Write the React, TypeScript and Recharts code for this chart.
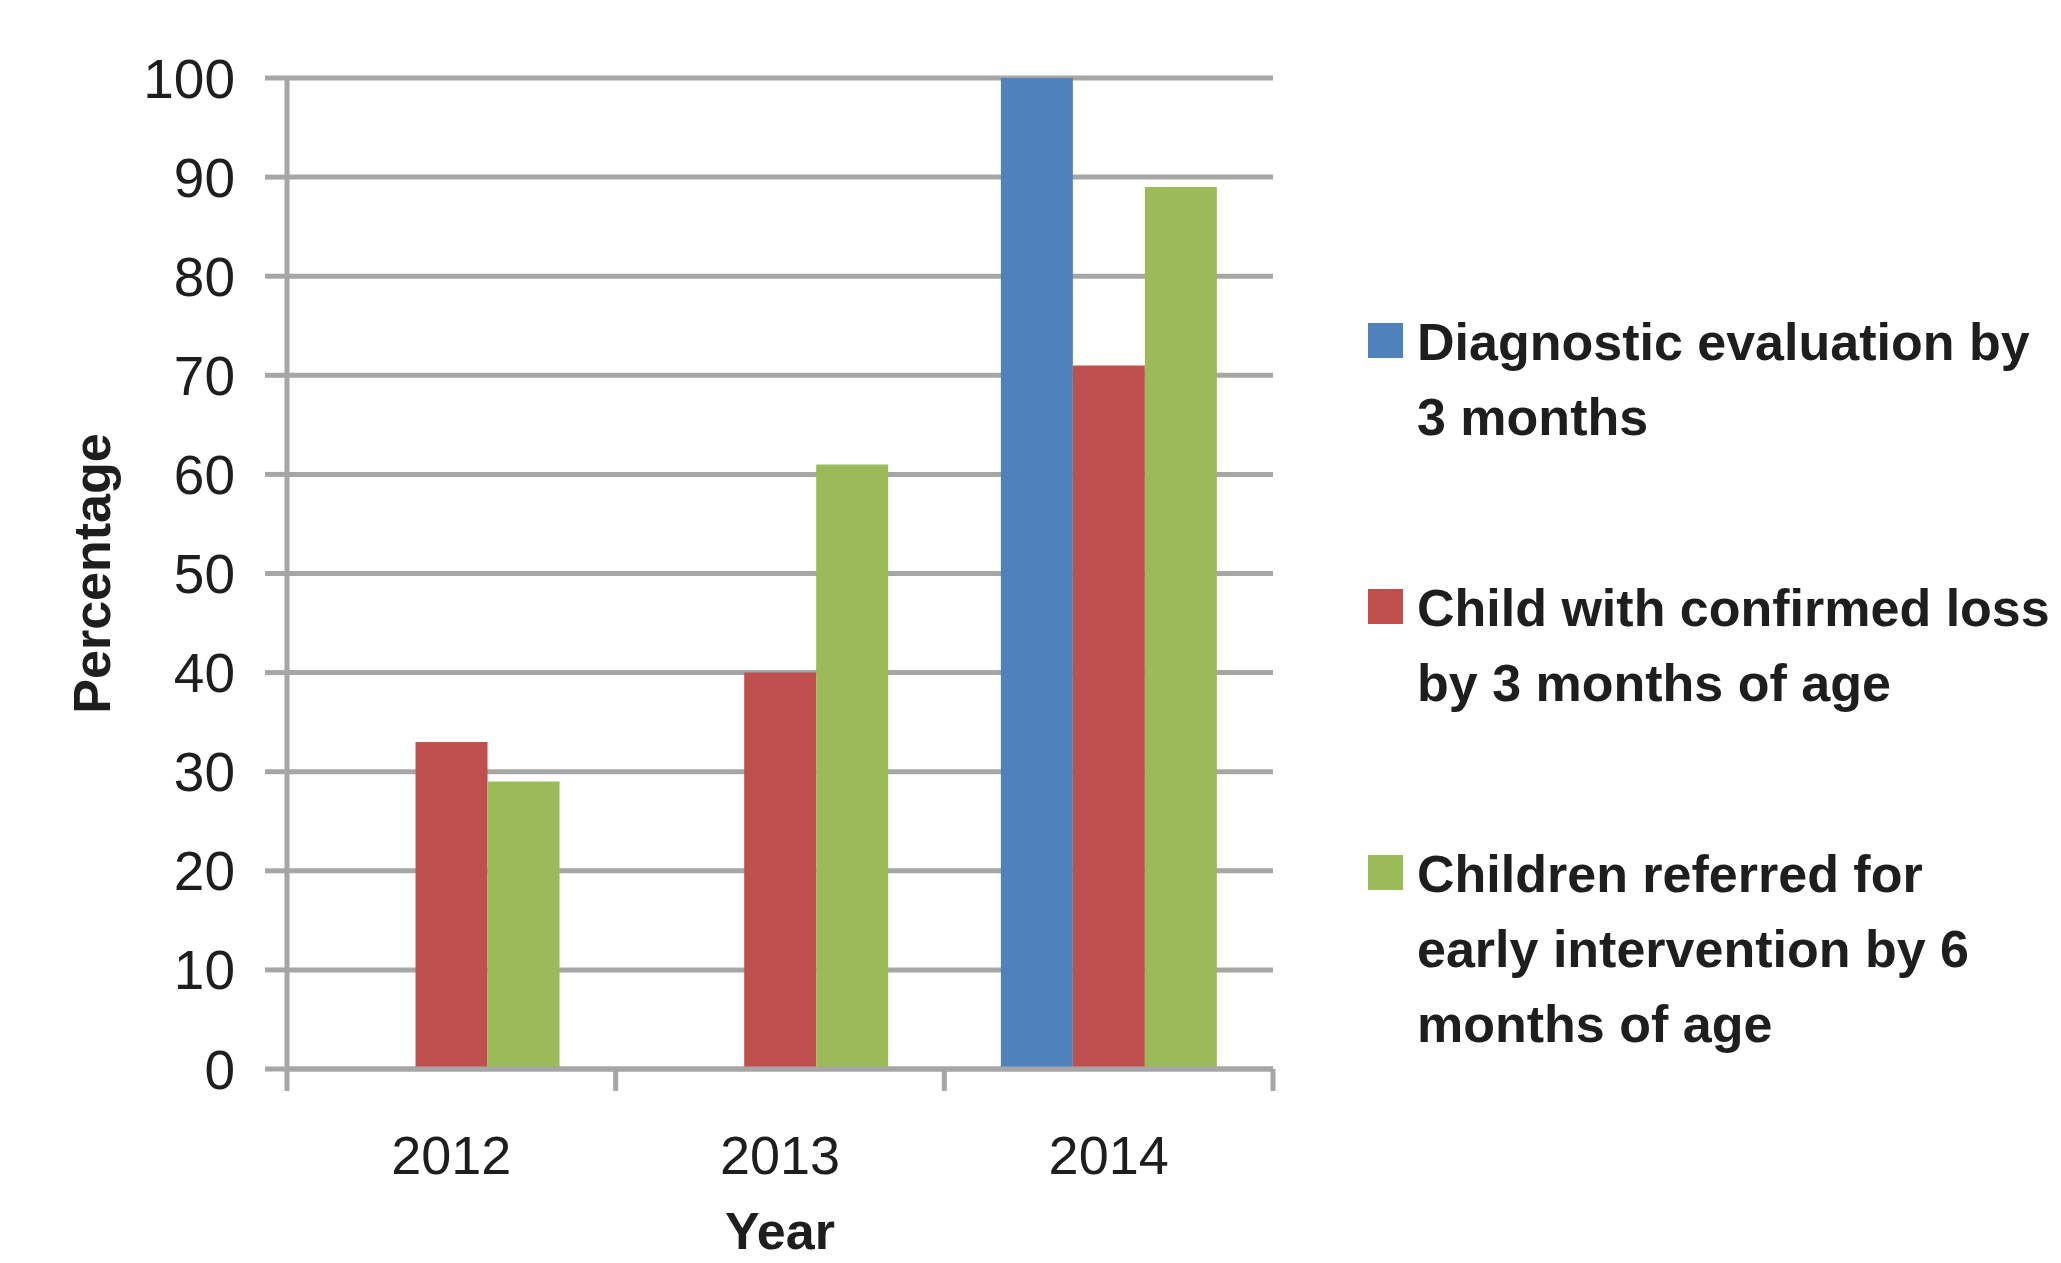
import { BarChart, Bar, XAxis, YAxis, CartesianGrid, Legend } from "recharts";

// values
const YEARS = ["2012", "2013", "2014"];
const DIAGNOSTIC = [null, null, 100];
const CONFIRMED = [33, 40, 71];
const REFERRED = [29, 61, 89];
const Y_TICKS = [0, 10, 20, 30, 40, 50, 60, 70, 80, 90, 100];

const SERIES = [
  { key: "diagnostic", name: "Diagnostic evaluation by\n3 months", color: "#4f81bd" },
  { key: "confirmed", name: "Child with confirmed loss\nby 3 months of age", color: "#c0504d" },
  { key: "referred", name: "Children referred for\nearly intervention by 6\nmonths of age", color: "#9bbb59" },
];

const data = YEARS.map((year, i) => ({
  year,
  diagnostic: DIAGNOSTIC[i],
  confirmed: CONFIRMED[i],
  referred: REFERRED[i],
}));

const FONT = "'Liberation Sans', Arial, sans-serif";
const GRID = "#a6a6a6";
const INK = "#1e1e1e";

// Excel-style ticks: marks sit on the category edges, label in the middle
function YearTick(props: any) {
  const { x, y, payload, index, visibleTicksCount } = props;
  const half = payload?.offset ?? 0;
  return (
    <g>
      <line x1={x - half} x2={x - half} y1={y} y2={y + 22} stroke={GRID} strokeWidth={5} />
      {index === visibleTicksCount - 1 && (
        <line x1={x + half} x2={x + half} y1={y} y2={y + 22} stroke={GRID} strokeWidth={5} />
      )}
      <text x={x} y={y + 105} textAnchor="middle" fontSize={54} fill={INK} fontFamily={FONT}>
        {payload.value}
      </text>
    </g>
  );
}

function LegendList(props: any) {
  // keep series order (recharts sorts legend items by name otherwise)
  const order = SERIES.map((s) => s.name);
  const items = [...(props.payload ?? [])].sort(
    (a: any, b: any) => order.indexOf(a.value) - order.indexOf(b.value)
  );
  return (
    <div style={{ display: "flex", flexDirection: "column", gap: 116, fontFamily: FONT }}>
      {items.map((item: any) => (
        <div
          key={item.value}
          style={{
            position: "relative",
            paddingLeft: 49,
            fontSize: 52,
            lineHeight: "75px",
            fontWeight: 700,
            whiteSpace: "pre",
            color: INK,
          }}
        >
          <span
            style={{
              position: "absolute",
              left: 0,
              top: 18,
              width: 35,
              height: 35,
              background: item.color,
            }}
          />
          {item.value}
        </div>
      ))}
    </div>
  );
}

export default function App() {
  return (
    <div style={{ position: "absolute", left: 0, top: 0, background: "#fff" }}>
      <BarChart
        width={2061}
        height={1263}
        data={data}
        margin={{ top: 78, right: 788, bottom: 0, left: 0 }}
        barCategoryGap="17.2%"
        barGap={0}
      >
        <CartesianGrid vertical={false} stroke={GRID} strokeWidth={5} />
        <XAxis
          dataKey="year"
          height={194}
          interval={0}
          axisLine={{ stroke: GRID, strokeWidth: 5 }}
          tickLine={false}
          tickSize={0}
          tickMargin={0}
          tick={<YearTick />}
          label={{
            value: "Year",
            position: "insideBottom",
            offset: 14,
            fontSize: 52,
            fontWeight: 700,
            fill: INK,
            fontFamily: FONT,
          }}
        />
        <YAxis
          width={287}
          domain={[0, 100]}
          ticks={Y_TICKS}
          interval={0}
          axisLine={{ stroke: GRID, strokeWidth: 5 }}
          tickLine={{ stroke: GRID, strokeWidth: 5 }}
          tickSize={22}
          tickMargin={30}
          tick={{ fontSize: 55, fill: INK, fontFamily: FONT }}
          label={{
            value: "Percentage",
            angle: -90,
            position: "center",
            dx: -52,
            fontSize: 52,
            fontWeight: 700,
            fill: INK,
            fontFamily: FONT,
          }}
        />
        <Legend
          layout="horizontal"
          align="center"
          verticalAlign="middle"
          wrapperStyle={{ left: 1368, top: 305, width: 693 }}
          content={<LegendList />}
        />
        {SERIES.map((s) => (
          <Bar key={s.key} dataKey={s.key} name={s.name} fill={s.color} isAnimationActive={false} />
        ))}
      </BarChart>
    </div>
  );
}
